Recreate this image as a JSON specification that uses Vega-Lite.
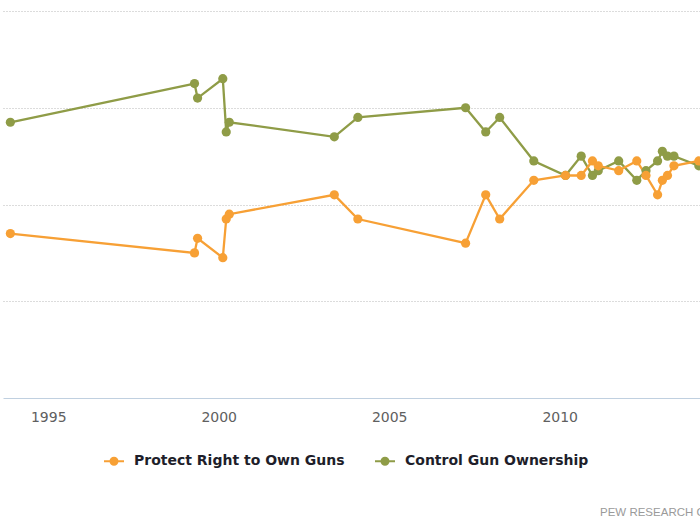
{
  "$schema": "https://vega.github.io/schema/vega-lite/v6.json",
  "width": 697,
  "height": 387,
  "autosize": {"type": "none"},
  "padding": {"left": 3, "top": 11, "right": 0, "bottom": 127},
  "background": "white",
  "config": {"view": {"stroke": null}, "font": "DejaVu Sans"},
  "title": {
    "text": "PEW RESEARCH CENTER",
    "orient": "bottom",
    "anchor": "start",
    "frame": "group",
    "dx": 597,
    "offset": 38,
    "font": "Liberation Sans",
    "fontSize": 11.5,
    "fontWeight": "normal",
    "color": "#9a9a9a"
  },
  "data": {
    "values": [
      {"t": 1993.89, "series": "Control Gun Ownership", "v": 57},
      {"t": 1999.29, "series": "Control Gun Ownership", "v": 65},
      {"t": 1999.38, "series": "Control Gun Ownership", "v": 62},
      {"t": 2000.12, "series": "Control Gun Ownership", "v": 66},
      {"t": 2000.22, "series": "Control Gun Ownership", "v": 55},
      {"t": 2000.31, "series": "Control Gun Ownership", "v": 57},
      {"t": 2003.39, "series": "Control Gun Ownership", "v": 54},
      {"t": 2004.08, "series": "Control Gun Ownership", "v": 58},
      {"t": 2007.24, "series": "Control Gun Ownership", "v": 60},
      {"t": 2007.83, "series": "Control Gun Ownership", "v": 55},
      {"t": 2008.24, "series": "Control Gun Ownership", "v": 58},
      {"t": 2009.24, "series": "Control Gun Ownership", "v": 49},
      {"t": 2010.17, "series": "Control Gun Ownership", "v": 46},
      {"t": 2010.63, "series": "Control Gun Ownership", "v": 50},
      {"t": 2010.96, "series": "Control Gun Ownership", "v": 46},
      {"t": 2011.13, "series": "Control Gun Ownership", "v": 47},
      {"t": 2011.73, "series": "Control Gun Ownership", "v": 49},
      {"t": 2012.26, "series": "Control Gun Ownership", "v": 45},
      {"t": 2012.53, "series": "Control Gun Ownership", "v": 47},
      {"t": 2012.87, "series": "Control Gun Ownership", "v": 49},
      {"t": 2013.01, "series": "Control Gun Ownership", "v": 51},
      {"t": 2013.16, "series": "Control Gun Ownership", "v": 50},
      {"t": 2013.35, "series": "Control Gun Ownership", "v": 50},
      {"t": 2014.08, "series": "Control Gun Ownership", "v": 48},
      {"t": 1993.89, "series": "Protect Right to Own Guns", "v": 34},
      {"t": 1999.29, "series": "Protect Right to Own Guns", "v": 30},
      {"t": 1999.38, "series": "Protect Right to Own Guns", "v": 33},
      {"t": 2000.12, "series": "Protect Right to Own Guns", "v": 29},
      {"t": 2000.22, "series": "Protect Right to Own Guns", "v": 37},
      {"t": 2000.31, "series": "Protect Right to Own Guns", "v": 38},
      {"t": 2003.39, "series": "Protect Right to Own Guns", "v": 42},
      {"t": 2004.08, "series": "Protect Right to Own Guns", "v": 37},
      {"t": 2007.24, "series": "Protect Right to Own Guns", "v": 32},
      {"t": 2007.83, "series": "Protect Right to Own Guns", "v": 42},
      {"t": 2008.24, "series": "Protect Right to Own Guns", "v": 37},
      {"t": 2009.24, "series": "Protect Right to Own Guns", "v": 45},
      {"t": 2010.17, "series": "Protect Right to Own Guns", "v": 46},
      {"t": 2010.63, "series": "Protect Right to Own Guns", "v": 46},
      {"t": 2010.96, "series": "Protect Right to Own Guns", "v": 49},
      {"t": 2011.13, "series": "Protect Right to Own Guns", "v": 48},
      {"t": 2011.73, "series": "Protect Right to Own Guns", "v": 47},
      {"t": 2012.26, "series": "Protect Right to Own Guns", "v": 49},
      {"t": 2012.53, "series": "Protect Right to Own Guns", "v": 46},
      {"t": 2012.87, "series": "Protect Right to Own Guns", "v": 42},
      {"t": 2013.01, "series": "Protect Right to Own Guns", "v": 45},
      {"t": 2013.16, "series": "Protect Right to Own Guns", "v": 46},
      {"t": 2013.35, "series": "Protect Right to Own Guns", "v": 48},
      {"t": 2014.08, "series": "Protect Right to Own Guns", "v": 49}
    ]
  },
  "encoding": {
    "x": {
      "field": "t",
      "type": "quantitative",
      "scale": {"domain": [1993.674, 2014.114], "nice": false, "zero": false},
      "axis": {
        "values": [1995, 2000, 2005, 2010],
        "format": "d",
        "title": null,
        "grid": false,
        "ticks": false,
        "domainColor": "#C0D0E0",
        "domainWidth": 1,
        "labelColor": "#606060",
        "labelFont": "DejaVu Sans",
        "labelFontSize": 14,
        "labelPadding": 12
      }
    },
    "y": {
      "field": "v",
      "type": "quantitative",
      "scale": {"domain": [0, 80], "nice": false},
      "axis": {
        "values": [20, 40, 60, 80],
        "grid": true,
        "gridColor": "#B8B8B8",
        "gridDash": [1, 2],
        "gridWidth": 1,
        "labels": false,
        "ticks": false,
        "domain": false,
        "title": null
      }
    },
    "color": {
      "field": "series",
      "type": "nominal",
      "scale": {
        "domain": ["Protect Right to Own Guns", "Control Gun Ownership"],
        "range": ["#F7A035", "#8F9C47"]
      },
      "legend": {
        "orient": "none",
        "legendX": 100,
        "legendY": 439,
        "direction": "horizontal",
        "title": null,
        "symbolType": "M-1,0H1M-0.35,0A0.35,0.35 0 1,0 0.35,0A0.35,0.35 0 1,0 -0.35,0",
        "symbolSize": 400,
        "symbolStrokeWidth": 2,
        "symbolOpacity": 1,
        "labelFont": "DejaVu Sans",
        "labelFontWeight": "bold",
        "labelFontSize": 14,
        "labelColor": "#1e1e2a",
        "labelLimit": 400,
        "labelOffset": 9,
        "columnPadding": 26,
        "encode": {
          "symbols": {
            "update": {
              "fill": {"scale": "color", "field": "value"},
              "stroke": {"scale": "color", "field": "value"}
            }
          }
        }
      }
    }
  },
  "layer": [
    {"mark": {"type": "line", "strokeWidth": 2.3}},
    {"mark": {"type": "point", "filled": true, "size": 85, "opacity": 1}}
  ]
}
